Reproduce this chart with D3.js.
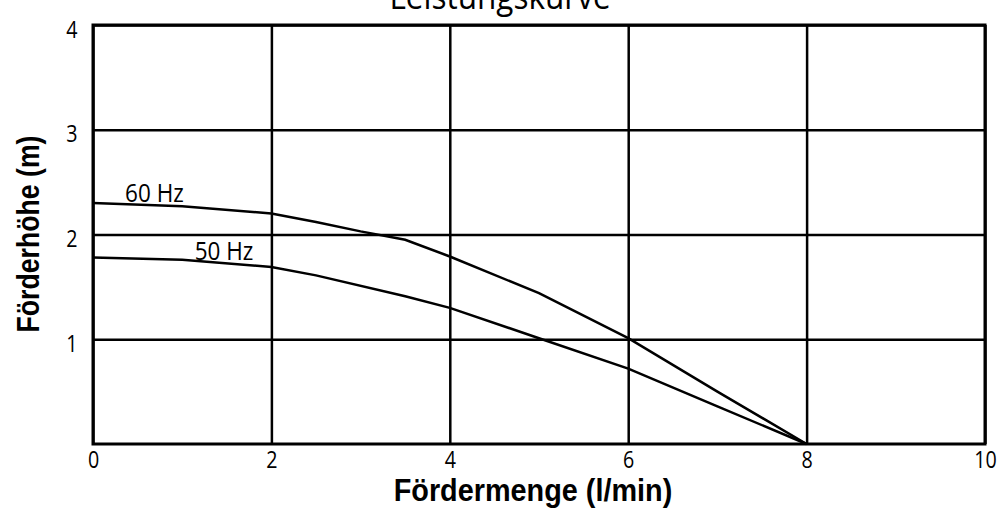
<!DOCTYPE html>
<html>
<head>
<meta charset="utf-8">
<script src="https://cdn.jsdelivr.net/npm/d3@7"></script>
<style>
  body { margin: 0; background: #fff; }
  .thin { font-family: 'Open Sans', 'DejaVu Sans', sans-serif; font-weight: 400; }
  .axtitle { font-family: 'Liberation Sans', Arial, sans-serif; font-weight: bold; font-size: 31px; }
</style>
</head>
<body>
<svg id="chart"></svg>
<script>
// Leistungskurve - Förderhöhe vs Fördermenge
var xTicks = [0, 2, 4, 6, 8, 10];
var yTicks = [1, 2, 3, 4];

var flow60 = [0, 1, 2, 2.5, 3, 3.5, 4, 5, 6, 7, 8];
var head60 = [2.30, 2.27, 2.20, 2.12, 2.03, 1.95, 1.79, 1.44, 1.01, 0.50, 0];

var flow50 = [0, 1, 2, 2.5, 3.5, 4, 5, 6, 7, 8];
var head50 = [1.78, 1.76, 1.69, 1.61, 1.41, 1.30, 1.01, 0.72, 0.36, 0];

var curveLabels = [
  { name: '60 Hz', x: 0.36, y: 2.31 },
  { name: '50 Hz', x: 1.14, y: 1.76 }
];

var width = 1000, height = 520;
var margin = { left: 93, right: 15, top: 25, bottom: 76 };
var plotW = width - margin.left - margin.right;
var plotH = height - margin.top - margin.bottom;
var squeeze = 0.82; // the original lettering is a bit narrow

var svg = d3.select('#chart').attr('width', width).attr('height', height);

var x = d3.scaleLinear().domain([0, 10]).range([0, plotW]);
var y = d3.scaleLinear().domain([0, 4]).range([plotH, 0]);

var g = svg.append('g').attr('transform', 'translate(' + margin.left + ',' + margin.top + ')');

// vertical grid + x labels
var xAxis = g.append('g')
  .attr('transform', 'translate(0,' + plotH + ')')
  .call(d3.axisBottom(x).tickValues(xTicks).tickSize(-plotH).tickPadding(7));
xAxis.select('.domain').remove();
xAxis.selectAll('line').attr('stroke', '#000').attr('stroke-width', 2.5);
xAxis.selectAll('text')
  .attr('class', 'thin').attr('font-size', 24).attr('fill', '#000')
  .attr('transform', 'scale(' + squeeze + ',1)');

// horizontal grid + y labels
var yAxis = g.append('g')
  .call(d3.axisLeft(y).tickValues(yTicks).tickFormat(d3.format('d')).tickSize(-plotW).tickPadding(19));
yAxis.select('.domain').remove();
yAxis.selectAll('line').attr('stroke', '#000').attr('stroke-width', 2.5);
yAxis.selectAll('text')
  .attr('class', 'thin').attr('font-size', 24).attr('fill', '#000').attr('dy', '0.5em')
  .attr('transform', 'scale(' + squeeze + ',1)');

// frame
g.append('rect')
  .attr('x', 0).attr('y', 0)
  .attr('width', plotW).attr('height', plotH)
  .attr('fill', 'none').attr('stroke', '#000').attr('stroke-width', 3);

// curves
var line = d3.line().x(function(d) { return x(d[0]); }).y(function(d) { return y(d[1]); });
var series = [d3.zip(flow60, head60), d3.zip(flow50, head50)];
g.selectAll('.curve').data(series).enter().append('path')
  .attr('class', 'curve')
  .attr('d', line)
  .attr('fill', 'none')
  .attr('stroke', '#000')
  .attr('stroke-width', 2.5);

g.selectAll('.clabel').data(curveLabels).enter().append('text')
  .attr('class', 'thin')
  .attr('transform', function(d) { return 'translate(' + x(d.x) + ',' + y(d.y) + ') scale(0.9,1)'; })
  .attr('font-size', 25)
  .text(function(d) { return d.name; });

// titles
svg.append('text')
  .attr('class', 'thin')
  .attr('transform', 'translate(500,9) scale(0.9,1)')
  .attr('text-anchor', 'middle')
  .attr('font-size', 35)
  .text('Leistungskurve');

svg.append('text')
  .attr('class', 'axtitle')
  .attr('x', 533).attr('y', 501)
  .attr('text-anchor', 'middle')
  .attr('transform', 'translate(533,0) scale(0.93,1) translate(-533,0)')
  .text('Fördermenge (l/min)');

svg.append('text')
  .attr('class', 'axtitle')
  .attr('transform', 'translate(39,234) rotate(-90) scale(0.86,1)')
  .attr('text-anchor', 'middle')
  .text('Förderhöhe (m)');
</script>
</body>
</html>
